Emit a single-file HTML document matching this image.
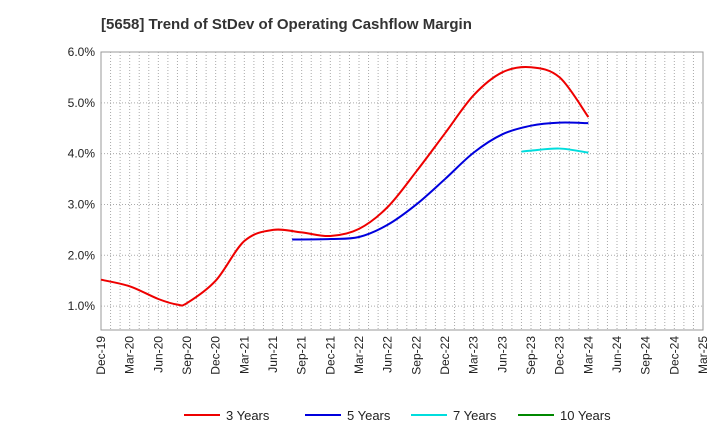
<!DOCTYPE html>
<html><head><meta charset="utf-8"><style>
body{margin:0;background:#fff;font-family:"Liberation Sans",sans-serif;}
svg text{font-family:"Liberation Sans",sans-serif;}
</style></head><body>
<svg id="chart" width="720" height="440" xmlns="http://www.w3.org/2000/svg">
<text x="101" y="29" font-size="15" font-weight="bold" fill="#333">[5658]  Trend of StDev of Operating Cashflow Margin</text>
<rect x="101" y="52" width="602" height="278" fill="#fff" stroke="#999"/>
<g id="grid"></g><g id="axes"></g><g id="series"></g>
<g id="legend"></g>
</svg>
<script>
const xLabels=["Dec-19","Mar-20","Jun-20","Sep-20","Dec-20","Mar-21","Jun-21","Sep-21","Dec-21","Mar-22","Jun-22","Sep-22","Dec-22","Mar-23","Jun-23","Sep-23","Dec-23","Mar-24","Jun-24","Sep-24","Dec-24","Mar-25"];
const yTicks=[1,2,3,4,5,6];
// months since Dec-19
const m3=[0,3,6,8,9,12,15,18,21,24,27,30,33,36,39,42,45,48,51];
const v3=[1.52,1.39,1.14,1.03,1.06,1.5,2.28,2.5,2.45,2.38,2.52,2.95,3.65,4.4,5.15,5.6,5.7,5.5,4.72];
const m5=[20,24,27,30,33,36,39,42,45,48,51];
const v5=[2.31,2.32,2.36,2.6,3.0,3.5,4.02,4.38,4.55,4.61,4.6];
const m7=[44,45,48,51];
const v7=[4.04,4.06,4.1,4.02];
const m10=[];const v10=[];
const X0=101,X1=703,Y0=330,Y1=52,YMIN=0.53,YMAX=6.0,MMAX=63;
const xs=m=>X0+(X1-X0)*m/MMAX;
const ys=v=>Y0-(Y0-Y1)*(v-YMIN)/(YMAX-YMIN);
const NS="http://www.w3.org/2000/svg";
function mk(tag,attrs,parent){const e=document.createElementNS(NS,tag);for(const k in attrs)e.setAttribute(k,attrs[k]);parent.appendChild(e);return e;}
const grid=document.getElementById('grid'),axes=document.getElementById('axes'),ser=document.getElementById('series'),leg=document.getElementById('legend');
for(let m=1;m<MMAX;m++){const l=mk('line',{x1:xs(m),x2:xs(m),y1:Y1,y2:Y0,stroke:'#aaa','stroke-dasharray':'1,2'},grid);

}
yTicks.forEach(v=>{const y=ys(v);
if(v<6){const l=mk('line',{x1:X0,x2:X1,y1:y,y2:y,stroke:'#aaa','stroke-dasharray':'1,2'},grid);

}
const t=mk('text',{x:X0-6,y:y+4,'text-anchor':'end','font-size':12,fill:'#222'},axes);t.textContent=v.toFixed(1)+'%';

});
xLabels.forEach((s,i)=>{const x=xs(i*3);const t=mk('text',{x:x+4,y:336,'text-anchor':'end','font-size':12,fill:'#222',transform:`rotate(-90 ${x+4} 336)`},axes);t.textContent=s;

});
function path(ms,vs){const p=ms.map((m,i)=>[xs(m),ys(vs[i])]);if(!p.length)return '';let d=`M${p[0][0]},${p[0][1]}`;
for(let i=0;i<p.length-1;i++){const a=p[i-1]||p[i],b=p[i],c=p[i+1],e=p[i+2]||c;
d+=` C${b[0]+(c[0]-a[0])/6},${b[1]+(c[1]-a[1])/6} ${c[0]-(e[0]-b[0])/6},${c[1]-(e[1]-b[1])/6} ${c[0]},${c[1]}`;}return d;}
const series=[["3 Years",m3,v3,"#e00"],["5 Years",m5,v5,"#00d"],["7 Years",m7,v7,"#0dd"],["10 Years",m10,v10,"#080"]];
series.forEach(([n,ms,vs,c],i)=>{const p=mk('path',{d:path(ms,vs),fill:'none',stroke:c,'stroke-width':2},ser);


const lx=[184,305,411,518][i];
const l=mk('line',{x1:lx,x2:lx+36,y1:415,y2:415,stroke:c,'stroke-width':2},leg);


const t=mk('text',{x:lx+42,y:420,'font-size':13,fill:'#222'},leg);t.textContent=n;

});
</script>
</body></html>
